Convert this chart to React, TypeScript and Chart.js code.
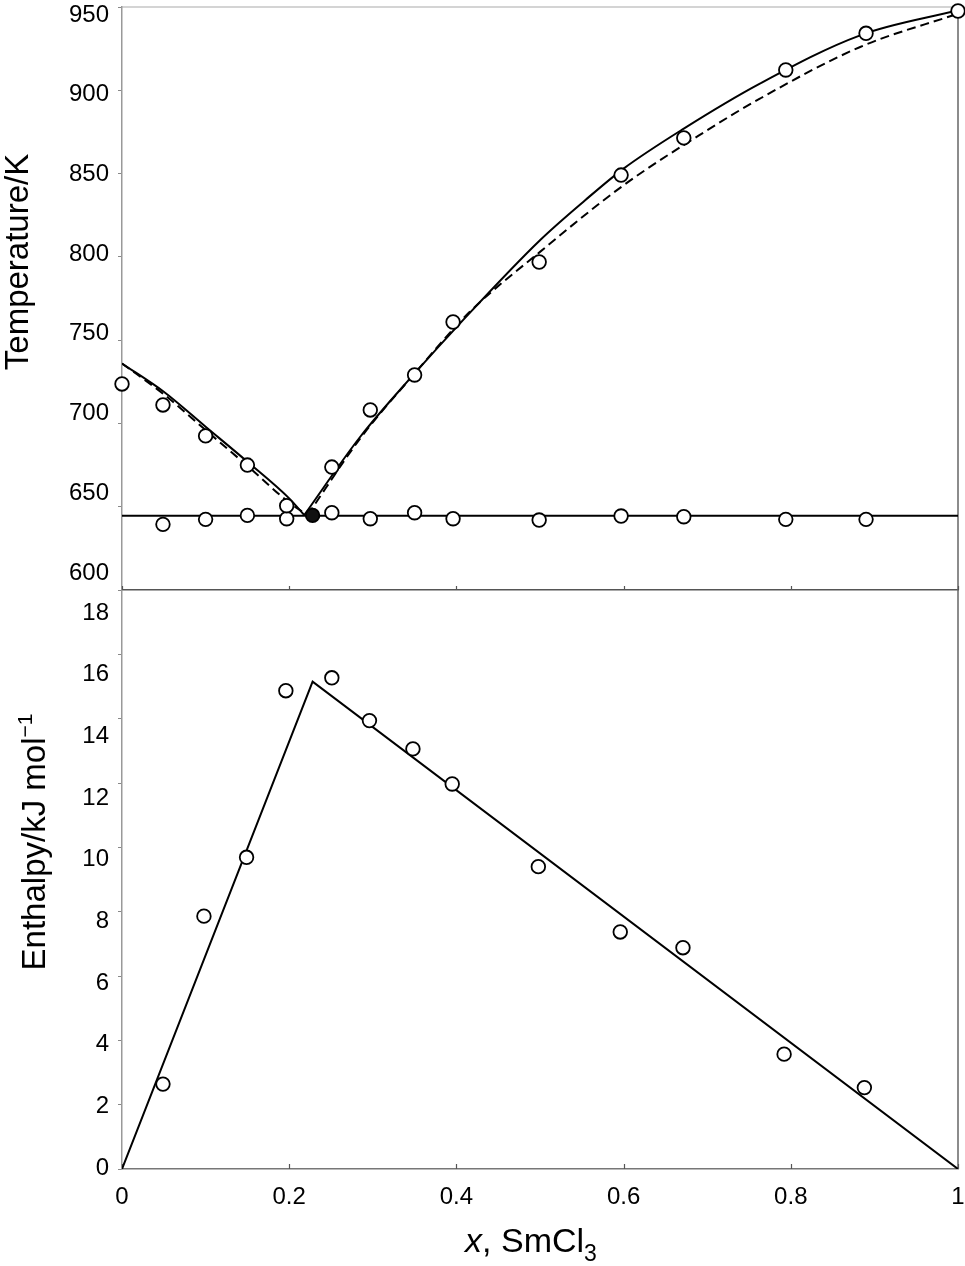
import React, { useEffect, useRef } from "react";
import { Chart, registerables } from "chart.js";

Chart.register(...registerables);

const FONT = '"Liberation Sans", Arial, Helvetica, sans-serif';

// ---- axes ----
const xTicks = [0, 0.2, 0.4, 0.6, 0.8, 1];
const tempTicks = [600, 650, 700, 750, 800, 850, 900, 950];
const enthalpyTicks = [0, 2, 4, 6, 8, 10, 12, 14, 16, 18];

// ---- top panel: measured liquidus (open circles) ----
const liquidusX = [0, 0.049, 0.1, 0.15, 0.197, 0.251, 0.297, 0.35, 0.396, 0.499, 0.597, 0.672, 0.794, 0.89, 1];
const liquidusT = [723.7, 711.1, 692.5, 675.0, 650.6, 673.8, 708.1, 729.1, 760.9, 796.9, 849.1, 871.4, 912.2, 934.2, 947.6];

// ---- top panel: measured eutectic halts (open circles) ----
const solidusX = [0.049, 0.1, 0.15, 0.197, 0.251, 0.297, 0.35, 0.396, 0.499, 0.597, 0.672, 0.794, 0.89];
const solidusT = [639.4, 642.4, 644.8, 642.8, 646.4, 642.8, 646.4, 642.8, 642.0, 644.4, 644.0, 642.4, 642.4];

// ---- eutectic point (filled) and eutectic line ----
const eutecticX = [0.228];
const eutecticT = [644.8];
const eutecticLineX = [0, 1];
const eutecticLineT = [644.6, 644.6];

// ---- calculated liquidus, solid curve ----
const solidLeftX = [0, 0.05, 0.1, 0.15, 0.2, 0.218];
const solidLeftT = [736, 719, 698, 677, 655, 645];
const solidRightX = [0.218, 0.285, 0.35, 0.406, 0.5, 0.554, 0.6, 0.672, 0.763, 0.883, 1];
const solidRightT = [645, 692, 730, 761, 810, 834, 853, 877, 904, 933, 948];

// ---- calculated liquidus, dashed curve ----
const dashedLeftX = [0, 0.05, 0.1, 0.15, 0.2, 0.222];
const dashedLeftT = [736, 717.5, 696, 674.5, 652.5, 645];
const dashedRightX = [0.222, 0.285, 0.35, 0.416, 0.5, 0.6, 0.7, 0.763, 0.883, 1];
const dashedRightT = [645, 691, 730, 767, 803, 843, 876, 895, 926, 946];

// ---- bottom panel: enthalpy of eutectic halt ----
const enthalpyX = [0.049, 0.098, 0.149, 0.196, 0.251, 0.296, 0.348, 0.395, 0.498, 0.596, 0.671, 0.792, 0.888];
const enthalpyH = [2.64, 7.86, 9.69, 14.87, 15.27, 13.94, 13.06, 11.97, 9.4, 7.37, 6.88, 3.57, 2.53];
const enthalpyFitX = [0, 0.228, 1];
const enthalpyFitH = [0, 15.15, 0];

// label drift along the axis (start, end) in px, as in the source figure
const TEMP_LABEL_SHIFT = [-17, 8];
const ENTH_LABEL_SHIFT = [-1, 23];

const toXY = (xs: number[], ys: number[]) => xs.map((x, i) => ({ x, y: ys[i] }));

const lineDs = (data: { x: number; y: number }[], dash: number[] = [], smooth = true) => ({
  data,
  showLine: true,
  pointRadius: 0,
  borderColor: "#000",
  backgroundColor: "#000",
  borderWidth: 2,
  borderDash: dash,
  fill: false,
  tension: 0,
  ...(smooth ? { cubicInterpolationMode: "monotone" as const } : {}),
});

const pointDs = (data: { x: number; y: number }[], fillColor = "#fff") => ({
  data,
  showLine: false,
  pointRadius: 6.8,
  pointBorderWidth: 1.8,
  pointBackgroundColor: fillColor,
  pointBorderColor: "#000",
  backgroundColor: fillColor,
  borderColor: "#000",
  clip: false as const,
});

type Run = { text: string; font: string; dy: number };

function drawRuns(ctx: CanvasRenderingContext2D, cx: number, base: number, runs: Run[], rotate: boolean) {
  ctx.save();
  ctx.fillStyle = "#000";
  ctx.textAlign = "left";
  ctx.textBaseline = "alphabetic";
  let w = 0;
  runs.forEach((r) => {
    ctx.font = r.font;
    w += ctx.measureText(r.text).width;
  });
  if (rotate) {
    ctx.translate(cx, base);
    ctx.rotate(-Math.PI / 2);
    let x = -w / 2;
    runs.forEach((r) => {
      ctx.font = r.font;
      ctx.fillText(r.text, x, r.dy);
      x += ctx.measureText(r.text).width;
    });
  } else {
    let x = cx - w / 2;
    runs.forEach((r) => {
      ctx.font = r.font;
      ctx.fillText(r.text, x, base + r.dy);
      x += ctx.measureText(r.text).width;
    });
  }
  ctx.restore();
}

function drawYLabels(chart: any, scaleId: string, values: number[], shift: number[]) {
  const { ctx, chartArea: a } = chart;
  const s = chart.scales[scaleId];
  ctx.save();
  ctx.font = `24px ${FONT}`;
  ctx.fillStyle = "#000";
  ctx.textAlign = "right";
  ctx.textBaseline = "middle";
  values.forEach((v) => {
    const t = (v - s.min) / (s.max - s.min);
    const d = shift[0] + t * (shift[1] - shift[0]);
    ctx.fillText(String(v), a.left - 13, s.getPixelForValue(v) + d);
  });
  ctx.restore();
}

function drawInwardTicks(chart: any, len: number, color: string) {
  const { ctx, chartArea: a } = chart;
  const x = chart.scales.x;
  ctx.save();
  ctx.strokeStyle = color;
  ctx.lineWidth = 1.2;
  xTicks.forEach((v) => {
    const px = Math.round(x.getPixelForValue(v)) + 0.5;
    ctx.beginPath();
    ctx.moveTo(px, a.bottom);
    ctx.lineTo(px, a.bottom - len);
    ctx.stroke();
  });
  ctx.restore();
}

function drawRightBorder(chart: any) {
  const { ctx, chartArea: a } = chart;
  ctx.save();
  ctx.strokeStyle = "#666";
  ctx.lineWidth = 1.5;
  ctx.beginPath();
  ctx.moveTo(a.right, a.top);
  ctx.lineTo(a.right, a.bottom);
  ctx.stroke();
  ctx.restore();
}

const topDecor = {
  id: "topDecor",
  beforeDatasetsDraw(chart: any) {
    const { ctx, chartArea: a } = chart;
    ctx.save();
    ctx.strokeStyle = "#aaa";
    ctx.lineWidth = 1.2;
    ctx.beginPath();
    ctx.moveTo(a.left, a.top);
    ctx.lineTo(a.right, a.top);
    ctx.stroke();
    ctx.restore();
    drawRightBorder(chart);
    drawInwardTicks(chart, 4, "#555");
  },
  afterDraw(chart: any) {
    drawYLabels(chart, "y", tempTicks, TEMP_LABEL_SHIFT);
    drawRuns(chart.ctx, 28, 262, [{ text: "Temperature/K", font: `33px ${FONT}`, dy: 0 }], true);
  },
};

const bottomDecor = {
  id: "bottomDecor",
  beforeDatasetsDraw(chart: any) {
    drawRightBorder(chart);
    drawInwardTicks(chart, 5, "#555");
  },
  afterDraw(chart: any) {
    drawYLabels(chart, "y", enthalpyTicks, ENTH_LABEL_SHIFT);
    drawRuns(
      chart.ctx,
      45,
      252,
      [
        { text: "Enthalpy/kJ mol", font: `33px ${FONT}`, dy: 0 },
        { text: "\u22121", font: `21px ${FONT}`, dy: -13 },
      ],
      true
    );
    drawRuns(
      chart.ctx,
      531,
      662,
      [
        { text: "x", font: `italic 34px ${FONT}`, dy: 0 },
        { text: ", SmCl", font: `34px ${FONT}`, dy: 0 },
        { text: "3", font: `23px ${FONT}`, dy: 9 },
      ],
      false
    );
  },
};

const baseOptions = {
  responsive: false,
  animation: false as const,
  events: [] as any[],
  plugins: { legend: { display: false }, tooltip: { enabled: false } },
};

function topConfig(): any {
  return {
    type: "scatter",
    data: {
      datasets: [
        pointDs(toXY(eutecticX, eutecticT), "#111"),
        pointDs(toXY(liquidusX, liquidusT)),
        pointDs(toXY(solidusX, solidusT)),
        lineDs(toXY(eutecticLineX, eutecticLineT), [], false),
        lineDs(toXY(solidLeftX, solidLeftT)),
        lineDs(toXY(solidRightX, solidRightT)),
        lineDs(toXY(dashedLeftX, dashedLeftT), [9, 5]),
        lineDs(toXY(dashedRightX, dashedRightT), [9, 5]),
      ],
    },
    options: {
      ...baseOptions,
      layout: { autoPadding: false, padding: { top: 7, right: 7, left: 0, bottom: 0 } },
      scales: {
        x: {
          type: "linear",
          min: 0,
          max: 1,
          ticks: { display: false, stepSize: 0.2 },
          grid: { display: false, drawTicks: false },
          border: { display: true, color: "#555", width: 1.5 },
          afterFit: (s: any) => {
            s.height = 10;
            s.paddingLeft = 0;
            s.paddingRight = 0;
          },
        },
        y: {
          type: "linear",
          min: 600,
          max: 950,
          ticks: { display: false, stepSize: 50 },
          grid: { display: true, drawOnChartArea: false, drawTicks: true, tickLength: 4, color: "#888", lineWidth: 1 },
          border: { display: true, color: "#999", width: 1.5 },
          afterFit: (s: any) => {
            s.width = 122;
            s.paddingTop = 0;
            s.paddingBottom = 0;
          },
        },
      },
    },
    plugins: [topDecor],
  };
}

function bottomConfig(): any {
  return {
    type: "scatter",
    data: {
      datasets: [pointDs(toXY(enthalpyX, enthalpyH)), lineDs(toXY(enthalpyFitX, enthalpyFitH), [], false)],
    },
    options: {
      ...baseOptions,
      layout: { autoPadding: false, padding: { top: 0, right: 7, left: 0, bottom: 0 } },
      scales: {
        x: {
          type: "linear",
          min: 0,
          max: 1,
          ticks: {
            display: true,
            stepSize: 0.2,
            padding: 14,
            color: "#000",
            font: { family: FONT, size: 24 },
            maxRotation: 0,
            callback: (v: any) => String(Number(Number(v).toFixed(2))),
          },
          grid: { display: false, drawTicks: false },
          border: { display: true, color: "#777", width: 1.5 },
          afterFit: (s: any) => {
            s.height = 97;
            s.paddingLeft = 0;
            s.paddingRight = 0;
          },
        },
        y: {
          type: "linear",
          min: 0,
          max: 18,
          ticks: { display: false, stepSize: 2 },
          grid: { display: true, drawOnChartArea: false, drawTicks: true, tickLength: 4, color: "#888", lineWidth: 1 },
          border: { display: true, color: "#999", width: 1.5 },
          afterFit: (s: any) => {
            s.width = 122;
            s.paddingTop = 0;
            s.paddingBottom = 0;
          },
        },
      },
    },
    plugins: [bottomDecor],
  };
}

export default function App() {
  const topRef = useRef<HTMLCanvasElement>(null);
  const botRef = useRef<HTMLCanvasElement>(null);

  useEffect(() => {
    const top = new Chart(topRef.current as HTMLCanvasElement, topConfig());
    const bot = new Chart(botRef.current as HTMLCanvasElement, bottomConfig());
    return () => {
      top.destroy();
      bot.destroy();
    };
  }, []);

  return (
    <div style={{ position: "absolute", left: 0, top: 0, width: 965, height: 1266, background: "#fff" }}>
      <canvas
        ref={topRef}
        width={965}
        height={600}
        style={{ position: "absolute", left: 0, top: 0, width: 965, height: 600 }}
      />
      <canvas
        ref={botRef}
        width={965}
        height={676}
        style={{ position: "absolute", left: 0, top: 590, width: 965, height: 676 }}
      />
    </div>
  );
}
